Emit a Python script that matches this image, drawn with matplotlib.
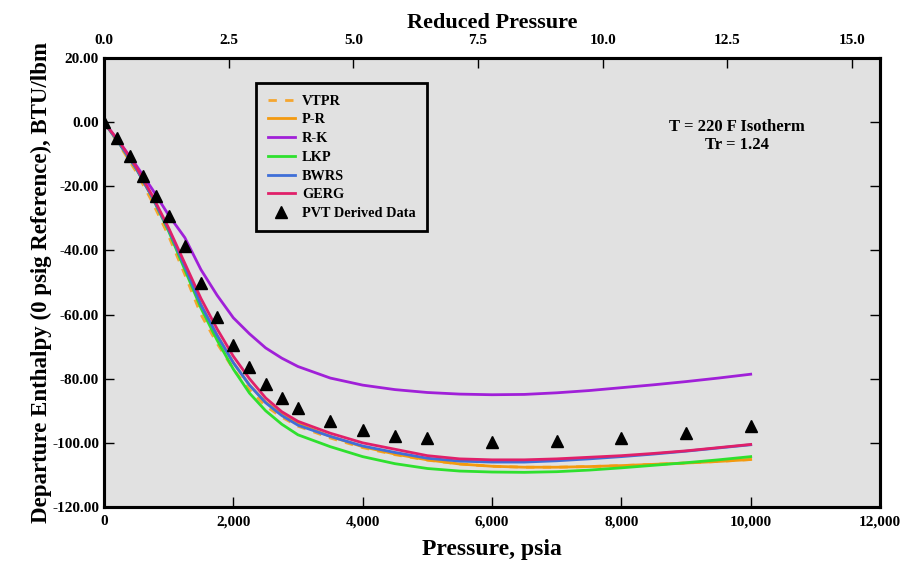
import matplotlib
matplotlib.use('Agg')
import matplotlib.pyplot as plt
from matplotlib.ticker import FuncFormatter, FormatStrFormatter

# pressure grid (psia) for the EOS curves
pressure = [0, 250, 500, 750, 1000, 1250, 1500, 1750, 2000, 2250, 2500, 2750, 3000,
            3500, 4000, 4500, 5000, 5500, 6000, 6500, 7000, 7500, 8000, 8500, 9000,
            9500, 10000]

vtpr = [0, -7.5, -15.5, -25, -35.5, -47.5, -60, -69, -77, -83.5, -88.5, -92, -94.8,
        -98.5, -101.5, -103.7, -105.4, -106.6, -107.3, -107.6, -107.6, -107.4, -107.1,
        -106.7, -106.3, -105.8, -105.2]
pr = [0, -7, -14.5, -23.5, -33.5, -45, -57, -66.5, -75, -82, -87.3, -91, -94,
      -98, -101.2, -103.5, -105.3, -106.6, -107.3, -107.6, -107.6, -107.4, -107.1,
      -106.7, -106.3, -105.8, -105.2]
rk = [0, -6.5, -13.5, -21, -29, -36, -46, -54, -61, -66, -70.4, -73.6, -76.2,
      -79.8, -82, -83.4, -84.3, -84.8, -85, -84.9, -84.4, -83.7, -82.8, -81.9, -80.9,
      -79.8, -78.6]
lkp = [0, -7, -14.5, -23.5, -34, -46, -58, -68, -77, -84.5, -90, -94.2, -97.5,
       -101.2, -104.3, -106.5, -108, -108.8, -109.1, -109.2, -109, -108.5, -107.8,
       -107, -106.2, -105.3, -104.3]
bwrs = [0, -7, -14.5, -23.5, -33.5, -45, -57, -66.5, -75, -82, -87.5, -91.5, -94.5,
        -98, -101, -103, -104.8, -105.7, -106, -106, -105.6, -105, -104.3, -103.5,
        -102.6, -101.6, -100.6]
gerg = [0, -6.5, -14, -23, -33, -44, -55, -64.5, -73, -80, -86, -90.3, -93.3,
        -97, -100, -102, -104, -105, -105.3, -105.3, -105, -104.5, -104, -103.3,
        -102.5, -101.5, -100.5]

# PVT derived points
pvt_p = [0, 200, 400, 600, 800, 1000, 1250, 1500, 1750, 2000, 2250, 2500, 2750, 3000,
         3500, 4000, 4500, 5000, 6000, 7000, 8000, 9000, 10000]
pvt_h = [0, -4.8, -10.6, -16.8, -23.1, -29.3, -38.7, -50.1, -60.9, -69.5, -76.4, -81.7,
         -86.0, -89.0, -93.3, -95.9, -97.8, -98.5, -99.7, -99.3, -98.4, -96.8, -94.8]

x_ticks = [0, 2000, 4000, 6000, 8000, 10000, 12000]
y_ticks = [20, 0, -20, -40, -60, -80, -100, -120]
pr_ticks = [0.0, 2.5, 5.0, 7.5, 10.0, 12.5, 15.0]

plt.rcParams['font.family'] = ['Liberation Serif', 'DejaVu Serif']
plt.rcParams['font.weight'] = 'bold'

fig = plt.figure(figsize=(9.04, 5.65), dpi=100)
ax = fig.add_axes([0.115, 0.1027, 0.8585, 0.7946])
ax.set_facecolor('#e1e1e1')

ax.plot(pressure, vtpr, color='#f5a630', lw=2.0, ls=(0, (3, 3)), label='VTPR')
ax.plot(pressure, pr, color='#f39a10', lw=2.0, label='P-R')
ax.plot(pressure, rk, color='#a020d8', lw=2.0, label='R-K')
ax.plot(pressure, lkp, color='#2ee02e', lw=2.0, label='LKP')
ax.plot(pressure, bwrs, color='#3f6fd8', lw=2.0, label='BWRS')
ax.plot(pressure, gerg, color='#e0206a', lw=2.0, label='GERG')
ax.plot(pvt_p, pvt_h, ls='none', marker='^', color='black', markersize=9,
        label='PVT Derived Data')

ax.set_xlim(0, 12000)
ax.set_ylim(-120, 20)
ax.set_xticks(x_ticks)
ax.set_yticks(y_ticks)
ax.xaxis.set_major_formatter(FuncFormatter(lambda v, pos: f'{int(v):,}'))
ax.yaxis.set_major_formatter(FormatStrFormatter('%.2f'))
ax.tick_params(direction='in', length=7, width=1, labelsize=11, right=True)
ax.tick_params(axis='x', pad=6)
for side in ax.spines.values():
    side.set_linewidth(2.2)

ax.set_xlabel('Pressure, psia', fontsize=17, fontweight='bold', labelpad=8)
ax.set_ylabel('Departure Enthalpy (0 psig Reference), BTU/lbm', fontsize=16.5,
              fontweight='bold', labelpad=0)

top = ax.twiny()
top.set_xlim(0, 15.56)
top.set_xticks(pr_ticks)
top.xaxis.set_major_formatter(FormatStrFormatter('%.1f'))
top.tick_params(direction='in', length=7, width=1, labelsize=11, pad=8)
top.set_xlabel('Reduced Pressure', fontsize=16, fontweight='bold', labelpad=4)
for side in top.spines.values():
    side.set_linewidth(2.2)

leg = ax.legend(loc='upper left', bbox_to_anchor=(0.196, 0.944), borderaxespad=0,
                fontsize=10.3, frameon=True, fancybox=False, framealpha=1,
                handlelength=1.9, labelspacing=0.4, borderpad=0.8,
                handletextpad=0.5)
leg.get_frame().set_facecolor('#e1e1e1')
leg.get_frame().set_edgecolor('black')
leg.get_frame().set_linewidth(2)

ax.text(0.815, 0.826, 'T = 220 F Isotherm\nTr = 1.24', transform=ax.transAxes,
        ha='center', va='center', fontsize=12, fontweight='bold', linespacing=1.2)

fig.savefig('out.png', dpi=100)
